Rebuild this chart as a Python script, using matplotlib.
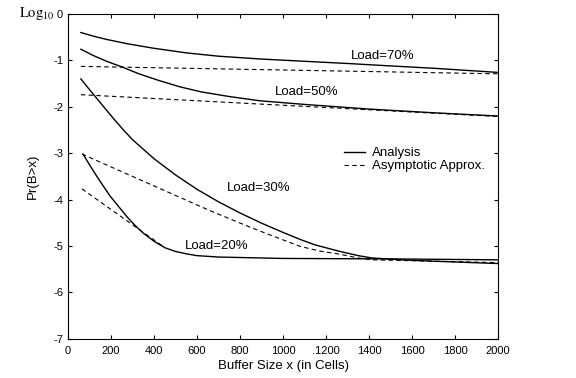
import matplotlib
matplotlib.use("Agg")
import matplotlib.pyplot as plt

plt.rcParams['font.family'] = ['Liberation Sans', 'DejaVu Sans']
plt.rcParams['axes.unicode_minus'] = False
plt.rcParams['mathtext.fontset'] = 'stix'

# analysis curves (log10 Pr(B>x))
x70 = [60, 120, 181, 274, 400, 553, 700, 893, 1100, 1311, 1500, 1700, 2000]
y70 = [-0.40, -0.48, -0.55, -0.64, -0.74, -0.84, -0.91, -0.97, -1.02, -1.07, -1.12, -1.17, -1.26]

x50 = [60, 120, 180, 250, 330, 420, 520, 620, 750, 890, 1100, 1400, 1700, 2000]
y50 = [-0.76, -0.90, -1.02, -1.14, -1.29, -1.43, -1.57, -1.68, -1.78, -1.87, -1.95, -2.05, -2.13, -2.20]

x30 = [60, 100, 150, 209, 256, 300, 400, 500, 600, 700, 800, 900, 1000, 1079,
       1150, 1265, 1350, 1413, 1550, 1700, 2000]
y30 = [-1.40, -1.63, -1.91, -2.24, -2.49, -2.71, -3.12, -3.47, -3.78, -4.05, -4.29,
       -4.51, -4.71, -4.86, -4.98, -5.12, -5.21, -5.26, -5.30, -5.33, -5.38]

x20 = [70, 100, 130, 160, 195, 230, 274, 310, 349, 400, 451, 500, 550, 600, 700,
       800, 1000, 1500, 2000]
y20 = [-3.02, -3.25, -3.47, -3.68, -3.92, -4.12, -4.37, -4.55, -4.72, -4.90, -5.04,
       -5.12, -5.17, -5.21, -5.24, -5.25, -5.27, -5.28, -5.30]

# asymptotic approximations
ax70_x = [60, 2000]
ax70_y = [-1.13, -1.29]
ax50_x = [60, 2000]
ax50_y = [-1.74, -2.21]
ax30_x = [65, 660, 870, 1079, 1170, 1265, 1350, 1413, 2000]
ax30_y = [-3.02, -4.24, -4.64, -5.01, -5.11, -5.18, -5.26, -5.30, -5.36]
ax20_x = [65, 451]
ax20_y = [-3.77, -5.04]

labels = ['Load=70%', 'Load=50%', 'Load=30%', 'Load=20%']
label_x = [1461, 1111, 885, 692]
label_y = [-0.91, -1.69, -3.75, -5.00]

xticks = list(range(0, 2001, 200))
xticklabels = ['0', '200', '400', '600', '800', '1000', '.1200', '1400', '1600', '1800', '2000']
yticks = list(range(0, -8, -1))

fig = plt.figure(figsize=(5.76, 3.78), dpi=100)
ax = fig.add_axes([0.118, 0.104, 0.747, 0.859])

dash = (0, (4, 3))
ax.plot(x70, y70, color='k', lw=1.0, label='Analysis')
ax.plot(ax70_x, ax70_y, color='k', lw=0.8, ls=dash, label='Asymptotic Approx.')
ax.plot(x50, y50, color='k', lw=1.0)
ax.plot(ax50_x, ax50_y, color='k', lw=0.8, ls=dash)
ax.plot(x30, y30, color='k', lw=1.0)
ax.plot(ax30_x, ax30_y, color='k', lw=0.8, ls=dash)
ax.plot(x20, y20, color='k', lw=1.0)
ax.plot(ax20_x, ax20_y, color='k', lw=0.8, ls=dash)

for t, lx, ly in zip(labels, label_x, label_y):
    ax.text(lx, ly, t, fontsize=9.5, ha='center', va='center')

ax.set_xlim(0, 2000)
ax.set_ylim(-7, 0)
ax.set_xticks(xticks)
ax.set_xticklabels(xticklabels)
ax.set_yticks(yticks)
ax.tick_params(direction='in', top=True, right=True, labelsize=8, length=3, width=0.8)
ax.tick_params(axis='x', pad=5)
for s in ax.spines.values():
    s.set_linewidth(0.8)

ax.set_xlabel('Buffer Size x (in Cells)', fontsize=9.5, labelpad=3)
ax.set_ylabel('Pr(B>x)', fontsize=9.5, labelpad=10)

ax.legend(loc='upper left', bbox_to_anchor=(0.627, 0.61), frameon=False,
          fontsize=9.5, handlelength=1.6, handletextpad=0.5,
          labelspacing=0.05, borderpad=0)

fig.text(0.033, 0.963, r'$\mathrm{Log}_{10}$', fontsize=10.5, va='center')

fig.savefig('out.png', dpi=100)
